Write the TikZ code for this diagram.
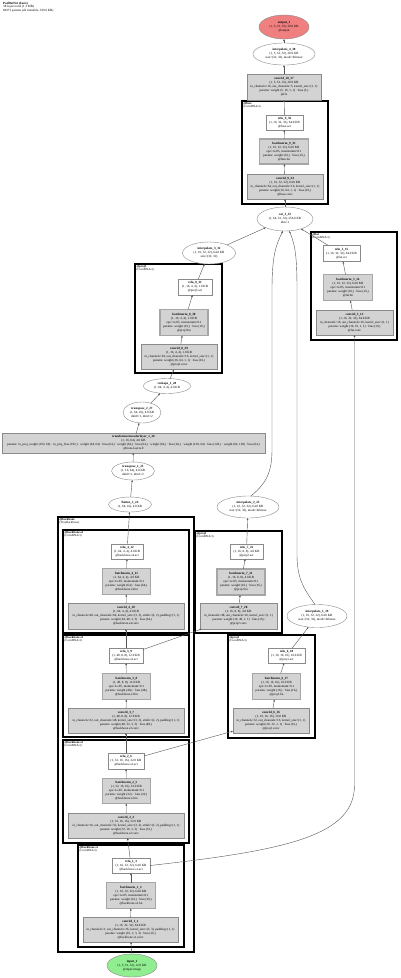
\documentclass[tikz,border=0pt]{standalone}
\usepackage{fontspec}
\setmainfont{Liberation Serif}
\usetikzlibrary{shapes.geometric,arrows.meta}
\definecolor{convfill}{HTML}{D3D3D3}
\definecolor{edgecol}{HTML}{555555}
\definecolor{bordercol}{HTML}{8A8A8A}
\definecolor{bnborder}{HTML}{A6A6A6}
\definecolor{outfill}{HTML}{F08080}
\definecolor{infill}{HTML}{90EE90}
\newcommand{\zt}[1]{\vbox to 0pt{\vss\hbox to 0pt{\hss\begin{tabular}{@{}c@{}}#1\end{tabular}\hss}\vss}}
\tikzset{
 base/.style={inner sep=0pt, outer sep=0pt, font=\fontsize{3.2}{3.9}\selectfont},
 sz/.style 2 args={minimum width=#1pt, minimum height=#2pt},
 op/.style={base, rectangle, draw=bordercol, line width=0.4pt, fill=convfill},
 bnbox/.style={base, rectangle, draw=bnborder, line width=1.3pt, fill=convfill},
 actbox/.style={base, rectangle, draw=bordercol, line width=0.4pt, fill=white},
 fn/.style={base, ellipse, draw=bordercol, line width=0.4pt, fill=white},
 clusterbox/.style={draw=black, line width=1.3pt, fill=white},
 clabel/.style={anchor=north west, align=left, inner sep=0pt, font=\fontsize{3.0}{3.3}\selectfont},
 conn/.style={draw=edgecol, line width=0.4pt, -{Triangle[length=2pt,width=1.6pt]}},
}
\begin{document}
\begin{tikzpicture}[x=1pt,y=-1pt]
\useasboundingbox[fill=white] (0,0) rectangle (400,978);

% header
\node[anchor=north west, align=left, inner sep=0pt, font=\fontsize{3.2}{3.5}\selectfont] (header) at (3,2)
 {\textbf{PadDetNet (basic)}\\38 layers total (1.3 MB)\\84373 params (all trainable, 329.6 KB)};

% clusters
\draw[clusterbox] (242,101) rectangle (328,204);
\node[clabel] (lbl_fuse) at (243.5,102) {\textbf{@fuse}\\(ConvBNAct)};
\draw[clusterbox] (311,232) rectangle (397,340);
\node[clabel] (lbl_lat) at (312.5,233) {\textbf{@lat}\\(ConvBNAct)};
\draw[clusterbox] (135,264) rectangle (222,373);
\node[clabel] (lbl_proj3) at (136.5,265) {\textbf{@proj3}\\(ConvBNAct)};
\draw[clusterbox] (58,517) rectangle (194,952);
\node[clabel] (lbl_backbone) at (59.5,518) {\textbf{@backbone}\\(TinyBackbone)};
\draw[clusterbox] (63,530) rectangle (189,633);
\node[clabel] (lbl_s4) at (64.5,531) {\textbf{@backbone.s4}\\(ConvBNAct)};
\draw[clusterbox] (63,635) rectangle (189,737);
\node[clabel] (lbl_s3) at (64.5,636) {\textbf{@backbone.s3}\\(ConvBNAct)};
\draw[clusterbox] (63,740) rectangle (189,843);
\node[clabel] (lbl_s2) at (64.5,741) {\textbf{@backbone.s2}\\(ConvBNAct)};
\draw[clusterbox] (78,845) rectangle (184,947);
\node[clabel] (lbl_s1) at (79.5,846) {\textbf{@backbone.s1}\\(ConvBNAct)};
\draw[clusterbox] (195,531) rectangle (282,633);
\node[clabel] (lbl_proj2) at (196.5,532) {\textbf{@proj2}\\(ConvBNAct)};
\draw[clusterbox] (228,635) rectangle (315,738);
\node[clabel] (lbl_proj1) at (229.5,636) {\textbf{@proj1}\\(ConvBNAct)};

% head
\node[fn, fill=outfill, sz={50}{24}] (output_1) at (284,27) {\zt{\textbf{output\_1}\\(1, 5, 32, 32), 20.0 KB\\@output}};
\node[fn, sz={62}{22}] (interpolate_4_38) at (284,54) {\zt{\textbf{interpolate\_4\_38}\\(1, 5, 32, 32), 20.0 KB\\size=(32, 32), mode=bilinear}};
\node[op, sz={74}{26}] (conv2d_10_37) at (284,87) {\zt{\textbf{conv2d\_10\_37}\\(1, 5, 32, 32), 20.0 KB\\in\_channels=16, out\_channels=5, kernel\_size=(1, 1)\\params: weight (5, 16, 1, 1) · bias (5,)\\@cls}};
\node[actbox, sz={37}{15}] (relu_9_36) at (284.5,122.5) {\zt{\textbf{relu\_9\_36}\\(1, 16, 32, 32), 64.0 KB\\@fuse.act}};
\node[bnbox, sz={49}{25}] (batchnorm_9_35) at (284,151.5) {\zt{\textbf{batchnorm\_9\_35}\\(1, 16, 32, 32), 64.0 KB\\eps=1e-05, momentum=0.1\\params: weight (16,) · bias (16,)\\@fuse.bn}};
\node[op, sz={76}{25}] (conv2d_9_34) at (285,186.5) {\zt{\textbf{conv2d\_9\_34}\\(1, 16, 32, 32), 64.0 KB\\in\_channels=64, out\_channels=16, kernel\_size=(1, 1)\\params: weight (16, 64, 1, 1) · bias (16,)\\@fuse.conv}};
\node[fn, sz={56}{24}] (cat_1_33) at (285,219) {\zt{\textbf{cat\_1\_33}\\(1, 64, 32, 32), 256.0 KB\\dim=1}};

% lat
\node[actbox, sz={37}{16}] (relu_5_15) at (341.5,253.5) {\zt{\textbf{relu\_5\_15}\\(1, 16, 32, 32), 64.0 KB\\@lat.act}};
\node[bnbox, sz={49}{26}] (batchnorm_5_14) at (348,287.5) {\zt{\textbf{batchnorm\_5\_14}\\(1, 16, 32, 32), 64.0 KB\\eps=1e-05, momentum=0.1\\params: weight (16,) · bias (16,)\\@lat.bn}};
\node[op, sz={77}{25}] (conv2d_5_13) at (354.5,322.5) {\zt{\textbf{conv2d\_5\_13}\\(1, 16, 32, 32), 64.0 KB\\in\_channels=16, out\_channels=16, kernel\_size=(1, 1)\\params: weight (16, 16, 1, 1) · bias (16,)\\@lat.conv}};

% proj3 and transformer branch
\node[fn, sz={53}{22}] (interpolate_3_32) at (209,253) {\zt{\textbf{interpolate\_3\_32}\\(1, 16, 32, 32), 64.0 KB\\size=(32, 32)}};
\node[actbox, sz={34}{16}] (relu_8_31) at (195,287) {\zt{\textbf{relu\_8\_31}\\(1, 16, 4, 4), 1.0 KB\\@proj3.act}};
\node[bnbox, sz={48}{26}] (batchnorm_8_30) at (184,322.5) {\zt{\textbf{batchnorm\_8\_30}\\(1, 16, 4, 4), 1.0 KB\\eps=1e-05, momentum=0.1\\params: weight (16,) · bias (16,)\\@proj3.bn}};
\node[op, sz={76}{25}] (conv2d_8_29) at (179,357) {\zt{\textbf{conv2d\_8\_29}\\(1, 16, 4, 4), 1.0 KB\\in\_channels=64, out\_channels=16, kernel\_size=(1, 1)\\params: weight (16, 64, 1, 1) · bias (16,)\\@proj3.conv}};
\node[fn, sz={47}{15}] (reshape_1_28) at (167,386) {\zt{\textbf{reshape\_1\_28}\\(1, 64, 4, 4), 4.0 KB}};
\node[fn, sz={38}{21}] (transpose_2_27) at (142,412.5) {\zt{\textbf{transpose\_2\_27}\\(1, 64, 16), 4.0 KB\\dim0=1, dim1=2}};
\node[op, sz={263}{20}] (transformerencoderlayer_1_26) at (133.5,443) {\zt{\textbf{transformerencoderlayer\_1\_26}\\(1, 16, 64), 4.0 KB\\params: in\_proj\_weight (192, 64) · in\_proj\_bias (192,) · weight (64, 64) · bias (64,) · weight (64,) · bias (64,) · weight (64,) · bias (64,) · weight (128, 64) · bias (128,) · weight (64, 128) · bias (64,)\\@trans.layers.0}};
\node[fn, sz={43}{18}] (transpose_1_25) at (133,471) {\zt{\textbf{transpose\_1\_25}\\(1, 16, 64), 4.0 KB\\dim0=1, dim1=2}};
\node[fn, sz={43}{15}] (flatten_1_24) at (130,504.5) {\zt{\textbf{flatten\_1\_24}\\(1, 64, 16), 4.0 KB}};

% backbone s4
\node[actbox, sz={32}{15}] (relu_4_12) at (127,551.5) {\zt{\textbf{relu\_4\_12}\\(1, 64, 4, 4), 4.0 KB\\@backbone.s4.act}};
\node[bnbox, sz={48}{26}] (batchnorm_4_11) at (126.5,581.5) {\zt{\textbf{batchnorm\_4\_11}\\(1, 64, 4, 4), 4.0 KB\\eps=1e-05, momentum=0.1\\params: weight (64,) · bias (64,)\\@backbone.s4.bn}};
\node[op, sz={116}{26}] (conv2d_4_10) at (126,616) {\zt{\textbf{conv2d\_4\_10}\\(1, 64, 4, 4), 4.0 KB\\in\_channels=48, out\_channels=64, kernel\_size=(3, 3), stride=(2, 2), padding=(1, 1)\\params: weight (64, 48, 3, 3) · bias (64,)\\@backbone.s4.conv}};
% s3
\node[actbox, sz={34}{15}] (relu_3_9) at (126,655.5) {\zt{\textbf{relu\_3\_9}\\(1, 48, 8, 8), 12.0 KB\\@backbone.s3.act}};
\node[bnbox, sz={48}{26}] (batchnorm_3_8) at (126.5,686.5) {\zt{\textbf{batchnorm\_3\_8}\\(1, 48, 8, 8), 12.0 KB\\eps=1e-05, momentum=0.1\\params: weight (48,) · bias (48,)\\@backbone.s3.bn}};
\node[op, sz={116}{25}] (conv2d_3_7) at (126,720.5) {\zt{\textbf{conv2d\_3\_7}\\(1, 48, 8, 8), 12.0 KB\\in\_channels=32, out\_channels=48, kernel\_size=(3, 3), stride=(2, 2), padding=(1, 1)\\params: weight (48, 32, 3, 3) · bias (48,)\\@backbone.s3.conv}};
% s2
\node[actbox, sz={36}{16}] (relu_2_6) at (126,761) {\zt{\textbf{relu\_2\_6}\\(1, 32, 16, 16), 32.0 KB\\@backbone.s2.act}};
\node[bnbox, sz={48}{25}] (batchnorm_2_5) at (126.5,791) {\zt{\textbf{batchnorm\_2\_5}\\(1, 32, 16, 16), 32.0 KB\\eps=1e-05, momentum=0.1\\params: weight (32,) · bias (32,)\\@backbone.s2.bn}};
\node[op, sz={116}{25}] (conv2d_2_4) at (126,825.5) {\zt{\textbf{conv2d\_2\_4}\\(1, 32, 16, 16), 32.0 KB\\in\_channels=16, out\_channels=32, kernel\_size=(3, 3), stride=(2, 2), padding=(1, 1)\\params: weight (32, 16, 3, 3) · bias (32,)\\@backbone.s2.conv}};
% s1
\node[actbox, sz={38}{15}] (relu_1_3) at (131,865.5) {\zt{\textbf{relu\_1\_3}\\(1, 16, 32, 32), 64.0 KB\\@backbone.s1.act}};
\node[bnbox, sz={49}{26}] (batchnorm_1_2) at (131,895.5) {\zt{\textbf{batchnorm\_1\_2}\\(1, 16, 32, 32), 64.0 KB\\eps=1e-05, momentum=0.1\\params: weight (16,) · bias (16,)\\@backbone.s1.bn}};
\node[op, sz={95}{25}] (conv2d_1_1) at (130.5,929.5) {\zt{\textbf{conv2d\_1\_1}\\(1, 16, 32, 32), 64.0 KB\\in\_channels=3, out\_channels=16, kernel\_size=(3, 3), padding=(1, 1)\\params: weight (16, 3, 3, 3) · bias (16,)\\@backbone.s1.conv}};
\node[fn, fill=infill, sz={50}{23}] (input_1) at (132,965.5) {\zt{\textbf{input\_1}\\(1, 3, 32, 32), 12.0 KB\\@input.image}};

% proj2
\node[fn, sz={62}{22}] (interpolate_2_23) at (248,507) {\zt{\textbf{interpolate\_2\_23}\\(1, 16, 32, 32), 64.0 KB\\size=(32, 32), mode=bilinear}};
\node[actbox, sz={33}{15}] (relu_7_22) at (246.5,551.5) {\zt{\textbf{relu\_7\_22}\\(1, 16, 8, 8), 4.0 KB\\@proj2.act}};
\node[bnbox, sz={48}{26}] (batchnorm_7_21) at (241,582) {\zt{\textbf{batchnorm\_7\_21}\\(1, 16, 8, 8), 4.0 KB\\eps=1e-05, momentum=0.1\\params: weight (16,) · bias (16,)\\@proj2.bn}};
\node[op, sz={77}{26}] (conv2d_7_20) at (238.5,616) {\zt{\textbf{conv2d\_7\_20}\\(1, 16, 8, 8), 4.0 KB\\in\_channels=48, out\_channels=16, kernel\_size=(1, 1)\\params: weight (16, 48, 1, 1) · bias (16,)\\@proj2.conv}};

% proj1
\node[fn, sz={60}{23}] (interpolate_1_19) at (317,616) {\zt{\textbf{interpolate\_1\_19}\\(1, 16, 32, 32), 64.0 KB\\size=(32, 32), mode=bilinear}};
\node[actbox, sz={37}{15}] (relu_6_18) at (286.5,655.5) {\zt{\textbf{relu\_6\_18}\\(1, 16, 16, 16), 16.0 KB\\@proj1.act}};
\node[bnbox, sz={48}{26}] (batchnorm_6_17) at (276.5,686.5) {\zt{\textbf{batchnorm\_6\_17}\\(1, 16, 16, 16), 16.0 KB\\eps=1e-05, momentum=0.1\\params: weight (16,) · bias (16,)\\@proj1.bn}};
\node[op, sz={76}{25}] (conv2d_6_16) at (271,720.5) {\zt{\textbf{conv2d\_6\_16}\\(1, 16, 16, 16), 16.0 KB\\in\_channels=32, out\_channels=16, kernel\_size=(1, 1)\\params: weight (16, 32, 1, 1) · bias (16,)\\@proj1.conv}};

% edges: backbone
\draw[conn] (input_1) -- (conv2d_1_1);
\draw[conn] (conv2d_1_1) -- (batchnorm_1_2);
\draw[conn] (batchnorm_1_2) -- (relu_1_3);
\draw[conn] (relu_1_3) -- (conv2d_2_4);
\draw[conn] (conv2d_2_4) -- (batchnorm_2_5);
\draw[conn] (batchnorm_2_5) -- (relu_2_6);
\draw[conn] (relu_2_6) -- (conv2d_3_7);
\draw[conn] (conv2d_3_7) -- (batchnorm_3_8);
\draw[conn] (batchnorm_3_8) -- (relu_3_9);
\draw[conn] (relu_3_9) -- (conv2d_4_10);
\draw[conn] (conv2d_4_10) -- (batchnorm_4_11);
\draw[conn] (batchnorm_4_11) -- (relu_4_12);
% transformer branch
\draw[conn] (relu_4_12) -- (flatten_1_24);
\draw[conn] (flatten_1_24) -- (transpose_1_25);
\draw[conn] (transpose_1_25) -- (transformerencoderlayer_1_26);
\draw[conn] (transformerencoderlayer_1_26) -- (transpose_2_27);
\draw[conn] (transpose_2_27) -- (reshape_1_28);
\draw[conn] (reshape_1_28) -- (conv2d_8_29);
\draw[conn] (conv2d_8_29) -- (batchnorm_8_30);
\draw[conn] (batchnorm_8_30) -- (relu_8_31);
\draw[conn] (relu_8_31) -- (interpolate_3_32);
\draw[conn] (interpolate_3_32) -- (cat_1_33);
% lat
\draw[conn] (relu_1_3.east) .. controls (290,850) and (354.5,835) .. (354.5,785) -- (conv2d_5_13.south);
\draw[conn] (conv2d_5_13) -- (batchnorm_5_14);
\draw[conn] (batchnorm_5_14) -- (relu_5_15);
\draw[conn] (relu_5_15) -- (cat_1_33);
% proj1
\draw[conn] (relu_2_6) -- (conv2d_6_16);
\draw[conn] (conv2d_6_16) -- (batchnorm_6_17);
\draw[conn] (batchnorm_6_17) -- (relu_6_18);
\draw[conn] (relu_6_18) -- (interpolate_1_19);
\draw[conn] (interpolate_1_19.100) .. controls (305,590) and (297,580) .. (297,555) -- (297,290) .. controls (297,255) and (295,245) .. (cat_1_33.-70);
% proj2
\draw[conn] (relu_3_9) -- (conv2d_7_20);
\draw[conn] (conv2d_7_20) -- (batchnorm_7_21);
\draw[conn] (batchnorm_7_21) -- (relu_7_22);
\draw[conn] (relu_7_22) -- (interpolate_2_23);
\draw[conn] (interpolate_2_23.75) .. controls (264,485) and (272,475) .. (272,450) -- (272,290) .. controls (272,255) and (276,245) .. (cat_1_33.-100);
% head
\draw[conn] (cat_1_33) -- (conv2d_9_34);
\draw[conn] (conv2d_9_34) -- (batchnorm_9_35);
\draw[conn] (batchnorm_9_35) -- (relu_9_36);
\draw[conn] (relu_9_36) -- (conv2d_10_37);
\draw[conn] (conv2d_10_37) -- (interpolate_4_38);
\draw[conn] (interpolate_4_38) -- (output_1);
\end{tikzpicture}
\end{document}
